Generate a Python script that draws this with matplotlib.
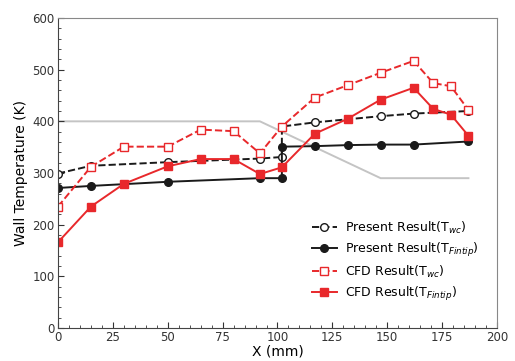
import numpy as np
import matplotlib.pyplot as plt
from matplotlib.ticker import MultipleLocator

# Present result (model), x positions in mm
x_pres = [0, 15, 50, 92, 102, 102, 117, 132, 147, 162, 187]
t_wc_pres = [299, 314, 321, 328, 331, 390, 398, 404, 410, 415, 420]
t_fin_pres = [271, 275, 283, 290, 290, 351, 352, 354, 355, 355, 361]

# CFD result
x_cfd = [0, 15, 30, 50, 65, 80, 92, 102, 117, 132, 147, 162, 171, 179, 187]
t_wc_cfd = [235, 312, 351, 351, 384, 381, 338, 390, 446, 470, 494, 517, 474, 468, 422]
t_fin_cfd = [166, 235, 279, 313, 327, 327, 298, 311, 376, 405, 442, 465, 424, 413, 372]

# grey reference line
x_ref = [0, 92, 147, 187]
t_ref = [400, 400, 290, 290]

red = '#e8282b'
black = '#1a1a1a'

fig = plt.figure(figsize=(5.15, 3.61), dpi=100)
ax = fig.add_axes([0.1126, 0.0914, 0.8524, 0.8587])

ax.plot(x_ref, t_ref, color='#c4c4c4', lw=1.4, zorder=1)
ax.plot(x_pres, t_wc_pres, '--o', color=black, mfc='white', mec=black, ms=5.5, lw=1.4,
        label=r'Present Result(T$_{wc}$)')
ax.plot(x_pres, t_fin_pres, '-o', color=black, ms=5.5, lw=1.4,
        label=r'Present Result(T$_{Fintip}$)')
ax.plot(x_cfd, t_wc_cfd, '--s', color=red, mfc='white', mec=red, ms=5.5, lw=1.4,
        label=r'CFD Result(T$_{wc}$)')
ax.plot(x_cfd, t_fin_cfd, '-s', color=red, ms=5.5, lw=1.4,
        label=r'CFD Result(T$_{Fintip}$)')

ax.set_xlim(0, 200)
ax.set_ylim(0, 600)
ax.xaxis.set_major_locator(MultipleLocator(25))
ax.xaxis.set_minor_locator(MultipleLocator(5))
ax.yaxis.set_major_locator(MultipleLocator(100))
ax.yaxis.set_minor_locator(MultipleLocator(20))
ax.tick_params(which='both', direction='in', labelsize=8.5, colors='#333333', pad=2.5)
ax.tick_params(which='major', length=4)
ax.tick_params(which='minor', length=2)

for s in ['top', 'right']:
    ax.spines[s].set_color('#888888')
for s in ['left', 'bottom']:
    ax.spines[s].set_color('#444444')

ax.set_xlabel('X (mm)', fontsize=10, labelpad=0)
ax.set_ylabel('Wall Temperature (K)', fontsize=10, labelpad=3)

ax.legend(loc='lower right', bbox_to_anchor=(0.985, 0.045), frameon=False,
          fontsize=9, handlelength=2.0, labelspacing=0.4, handletextpad=0.7)

fig.savefig('out.png', dpi=100)
